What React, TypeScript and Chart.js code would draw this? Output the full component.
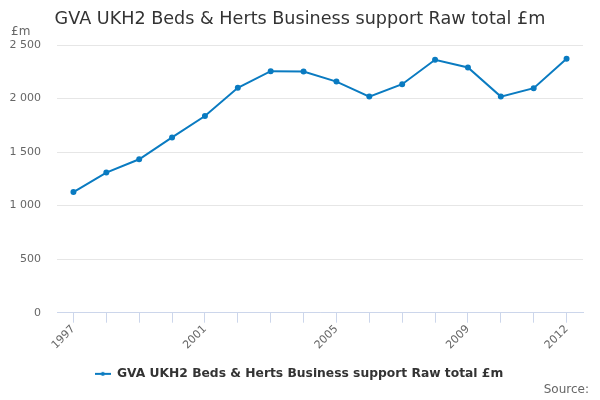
import React, { useEffect, useRef } from "react";
import { Chart, registerables } from "chart.js";

Chart.register(...registerables);

const years = ["1997", "1998", "1999", "2000", "2001", "2002", "2003", "2004", "2005", "2006", "2007", "2008", "2009", "2010", "2011", "2012"];
const values = [1127, 1309, 1433, 1637, 1837, 2100, 2256, 2253, 2158, 2018, 2134, 2362, 2290, 2018, 2097, 2372];
const labeledYears = ["1997", "2001", "2005", "2009", "2012"];
const seriesName = "GVA UKH2 Beds & Herts Business support Raw total £m";
const titleText = "GVA UKH2 Beds & Herts Business support Raw total £m";
const unitLabel = "£m";
const sourceText = "Source:";

const FONT = "'DejaVu Sans', sans-serif";
const LINE_COLOR = "#0a7bc1";

function fmt(v: number): string {
  const s = String(Math.round(v));
  return s.replace(/\B(?=(\d{3})+(?!\d))/g, " ");
}

function makeLegendSymbol(): HTMLCanvasElement {
  const c = document.createElement("canvas");
  c.width = 16;
  c.height = 8;
  const ctx = c.getContext("2d")!;
  ctx.strokeStyle = LINE_COLOR;
  ctx.lineWidth = 2;
  ctx.beginPath();
  ctx.moveTo(0, 4);
  ctx.lineTo(16, 4);
  ctx.stroke();
  ctx.fillStyle = LINE_COLOR;
  ctx.beginPath();
  ctx.arc(8, 4, 2, 0, Math.PI * 2);
  ctx.fill();
  return c;
}

const textPlugin = {
  id: "textPlugin",
  afterLayout(chart: any) {
    if (chart.legend) {
      chart.legend.left = 0;
      chart.legend.right = 598;
    }
  },
  afterDraw(chart: any) {
    const ctx = chart.ctx;
    ctx.save();
    ctx.fillStyle = "#333333";
    ctx.font = `17.6px ${FONT}`;
    ctx.textAlign = "center";
    ctx.textBaseline = "middle";
    ctx.fillText(titleText, 300, 19);
    ctx.fillStyle = "#666666";
    ctx.font = `12px ${FONT}`;
    ctx.textAlign = "left";
    ctx.fillText(unitLabel, 11, 32);
    ctx.font = `12px ${FONT}`;
    ctx.textAlign = "right";
    ctx.fillText(sourceText, 589, 390);
    ctx.restore();
  },
};

export default function App() {
  const ref = useRef<HTMLCanvasElement>(null);
  useEffect(() => {
    if (!ref.current) return;
    const symbol = makeLegendSymbol();
    const chart = new Chart(ref.current, {
      type: "line",
      data: {
        labels: years,
        datasets: [
          {
            label: seriesName,
            data: values,
            borderColor: LINE_COLOR,
            backgroundColor: LINE_COLOR,
            borderWidth: 2,
            pointRadius: 2,
            pointHoverRadius: 3,
            pointStyle: "circle",
            tension: 0,
          },
        ],
      },
      options: {
        responsive: false,
        animation: false,
        layout: { padding: { top: 45, right: 17, left: 0, bottom: 10 } },
        plugins: {
          title: { display: false },
          tooltip: { enabled: false },
          legend: {
            position: "bottom",
            labels: {
              font: { family: FONT, size: 12.3, weight: "bold" },
              color: "#333333",
              usePointStyle: true,
              pointStyleWidth: 16,
              padding: 10,
              generateLabels: (c: any) =>
                c.data.datasets.map((d: any, i: number) => ({
                  text: d.label,
                  pointStyle: symbol,
                  fillStyle: LINE_COLOR,
                  strokeStyle: LINE_COLOR,
                  lineWidth: 0,
                  datasetIndex: i,
                  hidden: false,
                  fontColor: "#333333",
                })),
            },
          },
        },
        scales: {
          x: {
            type: "category",
            offset: true,
            grid: {
              offset: false,
              drawOnChartArea: false,
              drawTicks: true,
              tickLength: 10,
              color: "#ccd6eb",
            },
            border: { color: "#ccd6eb", width: 1 },
            ticks: {
              autoSkip: false,
              maxRotation: 45,
              minRotation: 45,
              padding: 0,
              color: "#666666",
              font: { family: FONT, size: 11 },
              callback: function (this: any, _v: any, i: number) {
                const lab = years[i];
                return labeledYears.includes(lab) ? lab : "";
              },
            },
            afterFit: (s: any) => {
              s.height = 45;
            },
          },
          y: {
            min: 0,
            max: 2500,
            grid: { color: "#e6e6e6", drawTicks: false },
            border: { display: false },
            ticks: {
              stepSize: 500,
              padding: 16,
              color: "#666666",
              font: { family: FONT, size: 11 },
              callback: (v: any) => fmt(Number(v)),
            },
            afterFit: (s: any) => {
              s.width = 57;
            },
          },
        },
      },
      plugins: [textPlugin],
    });
    return () => chart.destroy();
  }, []);
  return (
    <div style={{ position: "absolute", left: 0, top: 0, width: 600, height: 400, background: "#fff" }}>
      <canvas ref={ref} width={600} height={400} style={{ width: 600, height: 400 }} />
    </div>
  );
}
